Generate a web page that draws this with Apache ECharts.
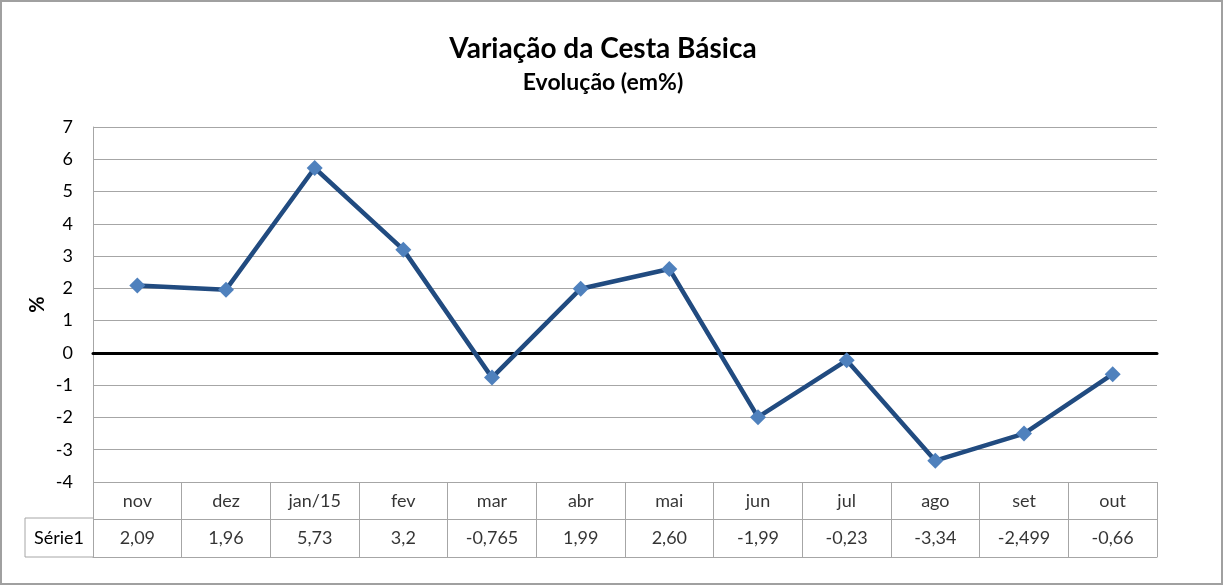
<!DOCTYPE html>
<html>
<head>
<meta charset="utf-8">
<script src="https://cdn.jsdelivr.net/npm/echarts@6/dist/echarts.min.js"></script>
<style>
    html, body { margin: 0; padding: 0; background: #fff; }
    #chart { width: 1225px; height: 587px; }
</style>
</head>
<body>
<div id="chart"></div>
<script>
// dados
const months = ['nov', 'dez', 'jan/15', 'fev', 'mar', 'abr', 'mai', 'jun', 'jul', 'ago', 'set', 'out']
const serie1 = [2.09, 1.96, 5.73, 3.2, -0.765, 1.99, 2.60, -1.99, -0.23, -3.34, -2.499, -0.66]
const serie1Labels = ['2,09', '1,96', '5,73', '3,2', '-0,765', '1,99', '2,60', '-1,99', '-0,23', '-3,34', '-2,499', '-0,66']
const tableRows = ['mes', 'Série1']

const font = 'Lato, "Open Sans", sans-serif'
const gridColor = '#a6a6a6'

const chart = echarts.init(document.getElementById('chart'))

// células da tabela: linha 0 = meses, linha 1 = valores
const tableCells = []
months.forEach((m, i) => {
    tableCells.push({ value: [i, 0], text: m })
    tableCells.push({ value: [i, 1], text: serie1Labels[i] })
})

chart.setOption({
    animation: false,
    textStyle: { fontFamily: font },
    title: {
        text: 'Variação da Cesta Básica',
        subtext: 'Evolução (em%)',
        left: 598,
        textAlign: 'center',
        top: 30,
        itemGap: 8,
        textStyle: { fontFamily: font, fontSize: 28, fontWeight: 'bold', color: '#000' },
        subtextStyle: { fontFamily: font, fontSize: 23, fontWeight: 'bold', color: '#000' },
    },
    graphic: [
        {
            type: 'rect',
            shape: { x: 1, y: 1, width: 1221, height: 583 },
            style: { fill: 'none', stroke: '#a0a0a0', lineWidth: 2 },
            silent: true,
        },
        {
            type: 'polyline',
            shape: { points: [[93, 518], [25, 518], [25, 557], [93, 557]] },
            style: { fill: 'none', stroke: gridColor, lineWidth: 1 },
            silent: true,
        },
    ],
    grid: [
        { left: 93, top: 127, width: 1064, height: 355 },
        { left: 93, top: 482, width: 1064, height: 75 },
    ],
    xAxis: [
        {
            gridIndex: 0,
            type: 'category',
            data: months,
            boundaryGap: true,
            axisLine: { show: true, onZero: true, lineStyle: { color: '#000', width: 3 } },
            axisTick: { show: false },
            axisLabel: { show: false },
            splitLine: { show: false },
        },
        {
            gridIndex: 1,
            type: 'category',
            data: months,
            boundaryGap: true,
            axisLine: { show: true, lineStyle: { color: gridColor, width: 1 } },
            axisTick: { show: false },
            axisLabel: { show: false },
            splitLine: { show: true, showMinLine: true, showMaxLine: true, lineStyle: { color: gridColor, width: 1 } },
        },
    ],
    yAxis: [
        {
            gridIndex: 0,
            type: 'value',
            min: -4,
            max: 7,
            interval: 1,
            name: '%',
            nameLocation: 'middle',
            nameGap: 45,
            nameMoveOverlap: false,
            nameRotate: 90,
            nameTextStyle: { fontFamily: font, fontSize: 20, fontWeight: 'bold', color: '#000' },
            axisLine: { show: true, lineStyle: { color: gridColor, width: 1 } },
            axisTick: { show: false },
            axisLabel: { fontFamily: font, fontSize: 18, color: '#000', margin: 20 },
            splitLine: { show: true, lineStyle: { color: gridColor, width: 1 } },
        },
        {
            gridIndex: 1,
            type: 'category',
            data: tableRows,
            inverse: true,
            boundaryGap: true,
            axisLine: { show: true, lineStyle: { color: gridColor, width: 1 } },
            axisTick: { show: false },
            axisLabel: {
                fontFamily: font,
                fontSize: 18,
                color: '#000',
                align: 'center',
                margin: 34,
                formatter: (v) => (v === 'Série1' ? v : ''),
            },
            splitLine: { show: true, showMinLine: true, showMaxLine: true, lineStyle: { color: gridColor, width: 1 } },
        },
    ],
    series: [
        {
            type: 'line',
            xAxisIndex: 0,
            yAxisIndex: 0,
            data: serie1,
            symbol: 'diamond',
            symbolSize: 16,
            lineStyle: { color: '#214b80', width: 4.5 },
            itemStyle: { color: '#4f81bd' },
            z: 5,
        },
        {
            type: 'scatter',
            xAxisIndex: 1,
            yAxisIndex: 1,
            data: tableCells,
            symbolSize: 0,
            silent: true,
            label: {
                show: true,
                position: 'inside',
                fontFamily: font,
                fontSize: 18,
                color: '#000',
                formatter: (p) => p.data.text,
            },
        },
    ],
})
</script>
</body>
</html>
